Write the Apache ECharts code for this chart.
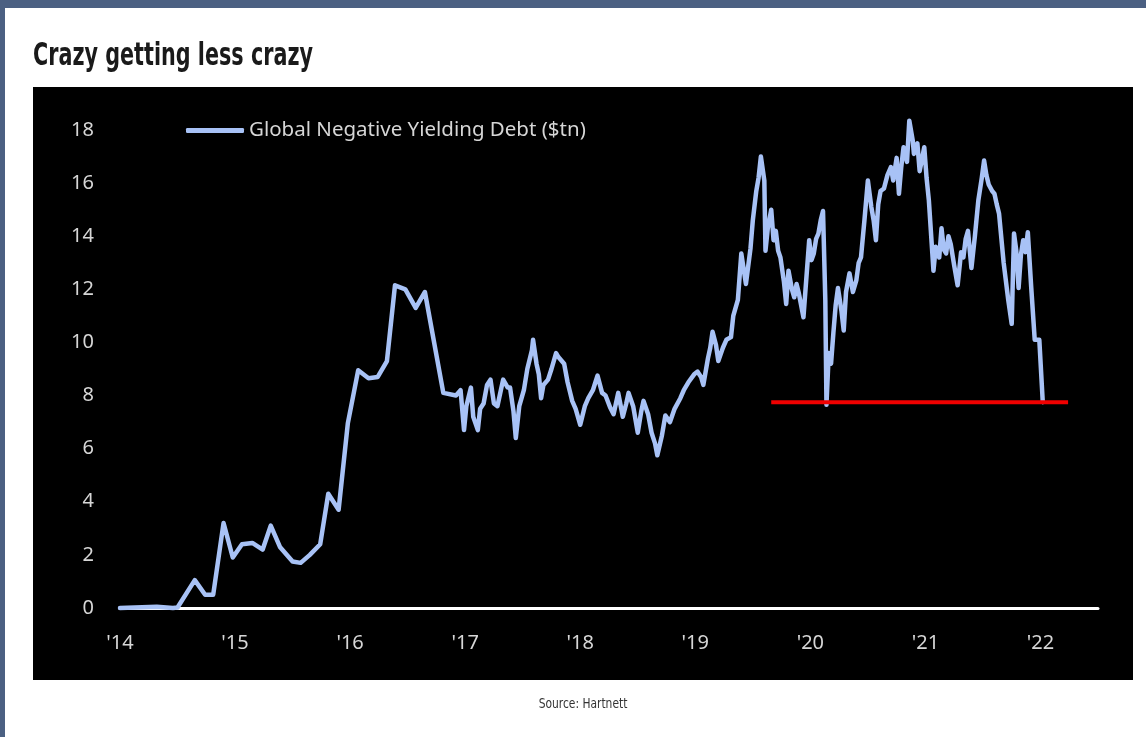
<!DOCTYPE html>
<html>
<head>
<meta charset="utf-8">
<script src="https://cdn.jsdelivr.net/npm/echarts@6/dist/echarts.min.js"></script>
<style>
html,body{margin:0;padding:0;background:#fff;}
#chart{width:1146px;height:737px;}
</style>
</head>
<body>
<div id="chart"></div>
<script>
// Decimal-year positions and values ($tn)
const years = [
2014.00,2014.32,2014.46,2014.50,2014.65,2014.74,2014.81,2014.90,2014.98,2015.06,
2015.15,2015.24,2015.31,2015.39,2015.50,2015.57,2015.65,2015.74,2015.81,2015.90,
2015.98,2016.07,2016.16,2016.24,2016.32,2016.39,2016.48,2016.57,2016.65,2016.81,
2016.92,2016.96,2016.99,2017.01,2017.05,2017.07,2017.11,2017.13,2017.16,2017.19,
2017.22,2017.25,2017.28,2017.31,2017.33,2017.37,2017.39,2017.42,2017.44,2017.47,
2017.51,2017.54,2017.58,2017.59,2017.62,2017.64,2017.66,2017.68,2017.72,2017.75,
2017.79,2017.81,2017.86,2017.89,2017.93,2017.96,2018.00,2018.04,2018.07,2018.11,
2018.15,2018.19,2018.22,2018.26,2018.29,2018.33,2018.37,2018.40,2018.42,2018.46,
2018.50,2018.53,2018.55,2018.59,2018.62,2018.65,2018.67,2018.71,2018.74,2018.78,
2018.82,2018.87,2018.90,2018.94,2018.99,2019.02,2019.05,2019.07,2019.11,2019.13,
2019.15,2019.18,2019.20,2019.24,2019.27,2019.31,2019.33,2019.37,2019.40,2019.44,
2019.48,2019.50,2019.53,2019.55,2019.57,2019.59,2019.60,2019.61,2019.63,2019.66,
2019.68,2019.70,2019.72,2019.74,2019.77,2019.79,2019.81,2019.84,2019.86,2019.88,
2019.90,2019.92,2019.94,2019.99,2020.01,2020.03,2020.05,2020.07,2020.09,2020.11,
2020.13,2020.14,2020.16,2020.18,2020.20,2020.22,2020.24,2020.27,2020.29,2020.31,
2020.34,2020.37,2020.40,2020.42,2020.44,2020.47,2020.50,2020.53,2020.55,2020.57,
2020.59,2020.61,2020.64,2020.67,2020.70,2020.72,2020.75,2020.77,2020.79,2020.81,
2020.84,2020.86,2020.89,2020.90,2020.93,2020.95,2020.97,2020.99,2021.01,2021.03,
2021.07,2021.09,2021.12,2021.14,2021.16,2021.18,2021.20,2021.22,2021.25,2021.28,
2021.31,2021.33,2021.35,2021.37,2021.40,2021.43,2021.46,2021.49,2021.51,2021.53,
2021.55,2021.58,2021.60,2021.62,2021.64,2021.68,2021.72,2021.75,2021.77,2021.79,
2021.81,2021.83,2021.85,2021.87,2021.89,2021.92,2021.95,2021.99,2022.02
];
const debt = [
0.0,0.05,0.0,0.02,1.05,0.5,0.5,3.2,1.9,2.4,
2.45,2.2,3.1,2.3,1.75,1.7,2.0,2.4,4.3,3.7,
6.95,8.95,8.65,8.7,9.3,12.15,12.0,11.3,11.9,8.1,
8.0,8.2,6.7,7.6,8.3,7.2,6.7,7.5,7.7,8.4,
8.6,7.7,7.6,8.2,8.6,8.3,8.3,7.4,6.4,7.6,
8.2,9.0,9.7,10.1,9.2,8.8,7.9,8.4,8.6,9.0,
9.6,9.45,9.2,8.5,7.8,7.5,6.9,7.6,7.9,8.2,
8.75,8.1,8.0,7.55,7.3,8.1,7.2,7.7,8.1,7.6,
6.6,7.4,7.8,7.3,6.6,6.2,5.75,6.5,7.25,7.0,
7.5,7.9,8.2,8.5,8.8,8.9,8.7,8.4,9.4,9.8,
10.4,9.9,9.3,9.8,10.1,10.2,11.0,11.6,13.35,12.2,
13.55,14.6,15.7,16.2,17.0,16.4,16.1,13.45,14.3,15.0,
13.85,14.2,13.45,13.2,12.3,11.45,12.7,12.0,11.7,12.2,
11.85,11.4,10.95,13.85,13.1,13.35,13.9,14.1,14.6,14.95,
11.6,7.65,9.6,9.2,10.35,11.4,12.05,11.2,10.45,11.9,
12.6,11.9,12.35,13.0,13.2,14.6,16.1,15.1,14.6,13.85,
15.2,15.7,15.8,16.3,16.6,16.1,16.95,15.6,16.6,17.35,
16.8,18.35,17.6,17.1,17.5,16.45,16.9,17.35,16.2,15.35,
12.7,13.6,13.2,14.3,13.5,13.35,14.0,13.7,12.9,12.15,
13.4,13.2,13.9,14.2,12.8,14.0,15.35,16.2,16.85,16.3,
15.95,15.7,15.6,15.2,14.85,13.0,11.6,10.7,14.1,13.45,
12.05,13.3,13.85,13.4,14.15,12.05,10.1,10.1,7.75
];
// Red reference line (horizontal level at the recent lows)
const refYears = [2019.66, 2022.24];
const refLevel = [7.75, 7.75];
const yTicks = [0, 18, 2];      // min, max, step
const xTicks = [2014, 2022.5, 1];
const seriesName = 'Global Negative Yielding Debt ($tn)';
const titleText = 'Crazy getting less crazy';
const sourceText = 'Source: Hartnett';

const lineData = years.map((y, i) => [y, debt[i]]);
const refData = refYears.map((y, i) => [y, refLevel[i]]);

const chart = echarts.init(document.getElementById('chart'), null, {renderer: 'canvas'});
const labelFont = "'Noto Sans', 'Open Sans', sans-serif";
chart.setOption({
  backgroundColor: '#ffffff',
  animation: false,
  graphic: [
    {type: 'rect', z: -10, shape: {x: 0, y: 0, width: 1146, height: 8}, style: {fill: '#4b6082'}, silent: true},
    {type: 'rect', z: -10, shape: {x: 0, y: 0, width: 5, height: 737}, style: {fill: '#4b6082'}, silent: true},
    {type: 'rect', z: -10, shape: {x: 33, y: 87, width: 1100, height: 593}, style: {fill: '#000000'}, silent: true},
    {type: 'text', x: 33, y: 41, scaleX: 0.72, scaleY: 1,
      style: {text: titleText, fill: '#1a1a1a', x: 0, y: 0, textVerticalAlign: 'top', verticalAlign: 'top',
      font: "bold 32px 'DejaVu Sans Condensed', 'DejaVu Sans', sans-serif"}},
    {type: 'text', x: 583, y: 697, scaleX: 0.85,
      style: {text: sourceText, fill: '#333333', x: 0, y: 0, align: 'center', textAlign: 'center', verticalAlign: 'top',
      font: "14px 'DejaVu Sans Condensed', 'DejaVu Sans', sans-serif"}}
  ],
  legend: {
    data: [seriesName],
    left: 186, top: 120, padding: 0,
    icon: 'roundRect', itemWidth: 58, itemHeight: 5, itemGap: 10,
    textStyle: {color: '#d6d6d6', fontSize: 20.5, fontFamily: labelFont, lineHeight: 20}
  },
  grid: {left: 120, right: 48, top: 130, bottom: 129, containLabel: false},
  xAxis: {
    type: 'value', min: xTicks[0], max: xTicks[1], interval: xTicks[2],
    axisLine: {show: true, lineStyle: {color: '#ffffff', width: 3}},
    axisTick: {show: false}, splitLine: {show: false},
    axisLabel: {color: '#d6d6d6', fontSize: 20, fontFamily: labelFont, margin: 25,
      showMaxLabel: false,
      formatter: v => (Number.isInteger(v) ? "'" + String(v).slice(2) : '')}
  },
  yAxis: {
    type: 'value', min: yTicks[0], max: yTicks[1], interval: yTicks[2],
    axisLine: {show: false}, axisTick: {show: false}, splitLine: {show: false},
    axisLabel: {color: '#d6d6d6', fontSize: 20, fontFamily: labelFont, margin: 26}
  },
  series: [
    {name: seriesName, type: 'line', data: lineData, symbol: 'none', clip: false, z: 3,
     lineStyle: {color: '#a8c2f6', width: 4.5, cap: 'round', join: 'round'}, itemStyle: {color: '#a8c2f6'}},
    {name: 'ref', type: 'line', data: refData, symbol: 'none', clip: false, z: 4,
     lineStyle: {color: '#f00000', width: 4}, itemStyle: {color: '#f00000'}}
  ]
});
</script>
</body>
</html>
